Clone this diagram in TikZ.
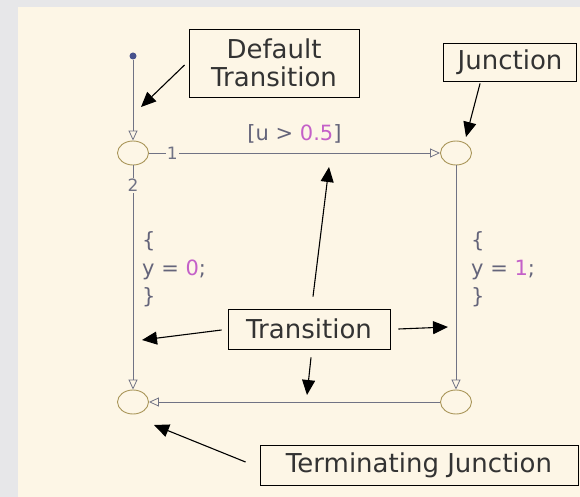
\documentclass[tikz,border=0pt]{standalone}
\usepackage{fontspec}
\setmainfont{DejaVu Sans}
\usetikzlibrary{arrows.meta,positioning,calc,shapes.geometric}
\definecolor{paper}{RGB}{253,246,230}
\definecolor{pagegray}{RGB}{231,231,233}
\definecolor{wirecol}{RGB}{112,114,132}
\definecolor{juncol}{RGB}{170,150,90}
\definecolor{codecol}{RGB}{100,100,122}
\definecolor{numcol}{RGB}{196,96,200}
\definecolor{dotcol}{RGB}{72,82,140}

\begin{document}
\begin{tikzpicture}[x=1pt, y=-1pt,
    junc/.style={ellipse, draw=juncol, line width=0.9pt, minimum width=31pt, minimum height=24pt, inner sep=0pt},
    trans/.style={draw=wirecol, line width=0.8pt, -{Triangle[open, length=10pt, width=9pt]}},
    callout/.style={draw=black, line width=1.1pt, -{Triangle[length=15pt, width=13pt]}},
    tag/.style={draw=black, line width=0.9pt, fill=paper, font=\fontsize{26}{28}\selectfont, text=black!80, inner sep=0pt, align=center},
    code/.style={font=\fontsize{21}{28}\selectfont, text=codecol, align=left, inner sep=0pt},
    prio/.style={font=\fontsize{17}{17}\selectfont, text=wirecol, fill=paper, inner sep=1pt}]
    \useasboundingbox (0,0) rectangle (580,497);
    \fill[pagegray] (0,0) rectangle (580,497);
    \fill[paper] (18,7) rectangle (580,497);
    % junctions and default source
    \node[circle, fill=dotcol, inner sep=0pt, minimum size=7pt] (src) at (133,56) {};
    \node[junc] (tl) at (133,153) {};
    \node[junc] (tr) at (456,153) {};
    \node[junc] (bl) at (133,402) {};
    \node[junc] (br) at (456,402) {};
    % transitions
    \draw[trans] (src) -- (tl);
    \draw[trans] (tl) -- node[prio, pos=0.08] {1}
      node[midway, above=9pt, font=\fontsize{21}{21}\selectfont, text=codecol, inner sep=0pt] {[u > \textcolor{numcol}{0.5}]} (tr);
    \draw[trans] (tl) -- node[prio, pos=0.09] {2} (bl);
    \draw[trans] (tr) -- (br);
    \draw[trans] (br) -- (bl);
    \node[code, anchor=west] (lact) at (142,269) {\{\\y = \textcolor{numcol}{0};\\\}};
    \node[code, anchor=west] (ract) at (471,269) {\{\\y = \textcolor{numcol}{1};\\\}};
    % callout boxes
    \node[tag, minimum width=170pt, minimum height=68pt] (deftag) at (274,63) {Default\\Transition};
    \node[tag, minimum width=133pt, minimum height=38pt] (junctag) at (510,62) {Junction};
    \node[tag, minimum width=162pt, minimum height=40pt] (transtag) at (309,329) {Transition};
    \node[tag, minimum width=318pt, minimum height=40pt] (termtag) at (419,465) {Terminating Junction};
    \coordinate (deftip) at (141,107);
    \coordinate (junctip) at (466,137);
    \coordinate (uptip) at (329,167);
    \coordinate (lefttip) at (142,340);
    \coordinate (righttip) at (448,327);
    \coordinate (downtip) at (307,395);
    \coordinate (termtip) at (154,425);
    \draw[callout] ([xshift=-4pt, yshift=-2pt]deftag.west) -- (deftip);
    \draw[callout] ([xshift=37pt, yshift=-2pt]junctag.south west) -- (junctip);
    \draw[callout] ([xshift=4pt, yshift=12pt]transtag.north) -- (uptip);
    \draw[callout] ([xshift=-6pt, yshift=-1pt]transtag.west) -- (lefttip);
    \draw[callout] ([xshift=8pt]transtag.east) -- (righttip);
    \draw[callout] ([xshift=2pt, yshift=-8pt]transtag.south) -- (downtip);
    \draw[callout] ([xshift=-14pt, yshift=3pt]termtag.west) -- (termtip);
\end{tikzpicture}
\end{document}
